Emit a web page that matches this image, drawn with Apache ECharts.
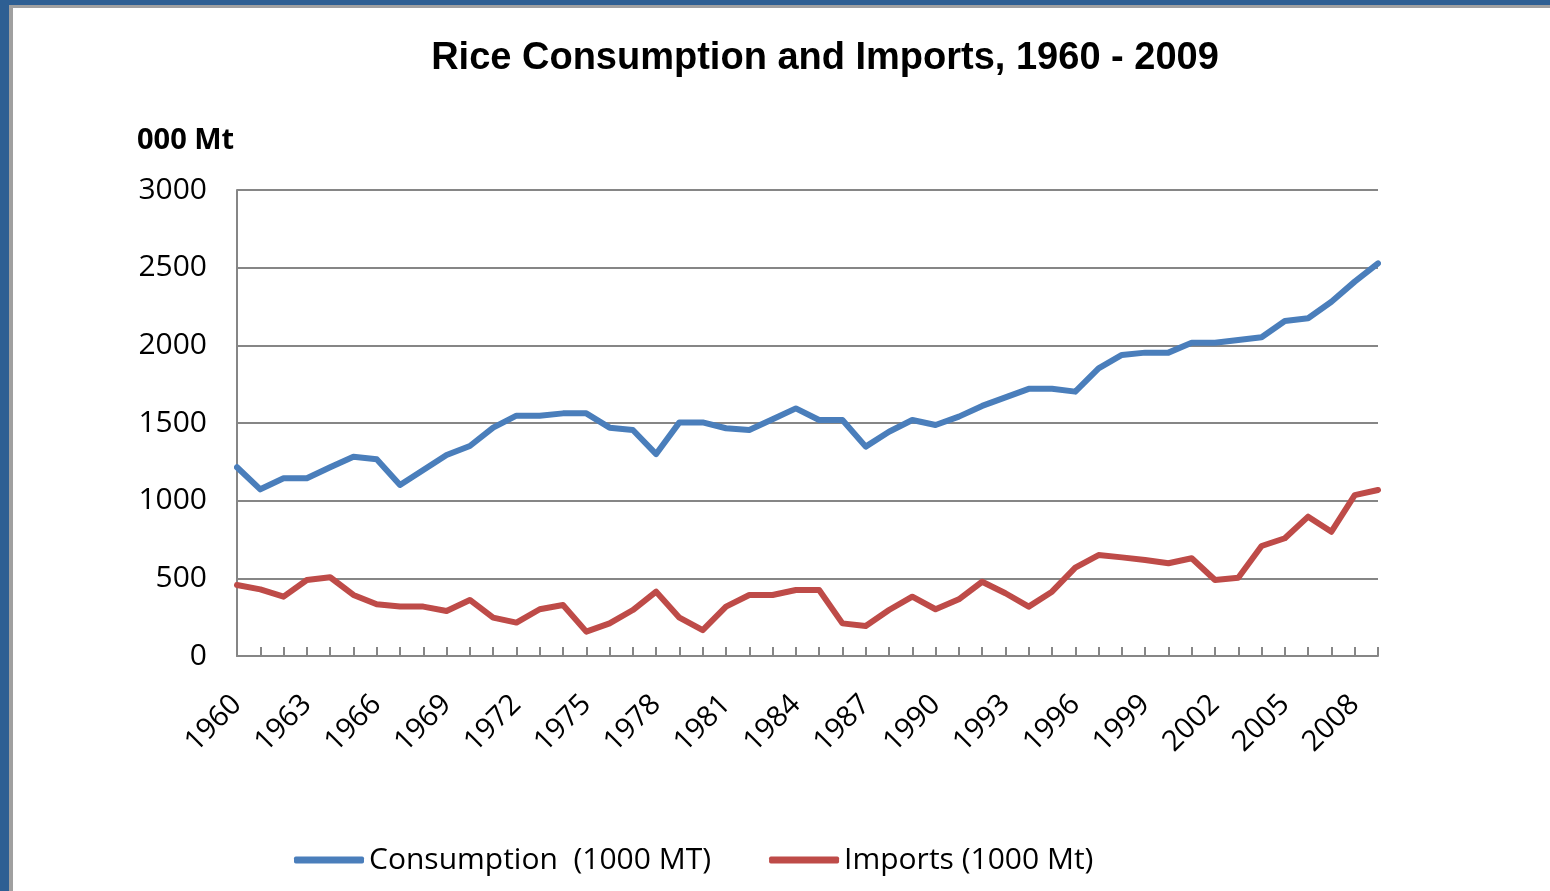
<!DOCTYPE html>
<html>
<head>
<meta charset="utf-8">
<title>Rice Consumption and Imports, 1960 - 2009</title>
<script src="https://cdn.jsdelivr.net/npm/echarts@6/dist/echarts.min.js"></script>
<style>
  html, body { margin: 0; padding: 0; width: 1550px; height: 891px; overflow: hidden; background: #2e5f93; }
  #frame { position: absolute; left: 9px; top: 5px; width: 1541px; height: 886px; background: #a0a0a0; }
  #chart { position: absolute; left: 4px; top: 3px; width: 1537px; height: 883px; background: #ffffff; }
</style>
</head>
<body>
<div id="frame"><div id="chart"></div></div>
<script>
// Years on the category axis
const years = [];
for (let y = 1960; y <= 2009; y++) years.push(String(y));

// Rice consumption, thousand tonnes
const consumption = [
  1215, 1073, 1144, 1144, 1215, 1283, 1266, 1101, 1197, 1294,
  1352, 1470, 1547, 1547, 1562, 1562, 1470, 1455, 1300, 1504,
  1504, 1466, 1455, 1524, 1594, 1519, 1519, 1348, 1444, 1519,
  1487, 1541, 1610, 1665, 1720, 1720, 1702, 1852, 1938, 1953,
  1953, 2017, 2017, 2034, 2052, 2157, 2174, 2281, 2410, 2528
];

// Rice imports, thousand tonnes
const imports = [
  457, 429, 382, 489, 507, 393, 333, 318, 318, 290,
  361, 247, 215, 301, 328, 157, 210, 296, 414, 247,
  167, 318, 393, 393, 425, 425, 210, 193, 296, 382,
  301, 365, 478, 404, 318, 414, 569, 650, 635, 618,
  597, 629, 489, 504, 708, 758, 897, 800, 1036, 1069
];

const yTicks = [0, 500, 1000, 1500, 2000, 2500, 3000];

const labelFont = '"Open Sans", "DejaVu Sans", sans-serif';
const chart = echarts.init(document.getElementById('chart'), null, { renderer: 'canvas' });

chart.setOption({
  animation: false,
  backgroundColor: '#ffffff',
  title: {
    text: 'Rice Consumption and Imports, 1960 - 2009',
    left: 807,
    top: 27,
    textAlign: 'center',
    textStyle: {
      fontFamily: '"Liberation Sans", Arial, sans-serif',
      fontWeight: 'bold',
      fontSize: 38,
      color: '#000000'
    }
  },
  graphic: [{
    type: 'text',
    left: 124,
    top: 118,
    style: {
      text: '000 Mt',
      font: 'bold 29px ' + labelFont,
      fill: '#000000'
    }
  }],
  legend: {
    left: 276,
    top: 832,
    itemGap: 58,
    itemWidth: 70,
    itemHeight: 7,
    icon: 'roundRect',
    textStyle: { fontFamily: labelFont, fontSize: 30, color: '#000000' },
    data: ['Consumption  (1000 MT)', 'Imports (1000 Mt)']
  },
  grid: { left: 224, right: 172, top: 182, bottom: 235 },
  xAxis: {
    type: 'category',
    data: years,
    boundaryGap: false,
    axisLine: { show: true, lineStyle: { color: '#868686', width: 2 } },
    axisTick: { show: true, inside: true, length: 9, interval: 0, lineStyle: { color: '#868686', width: 2 } },
    axisLabel: {
      interval: 2,
      rotate: 45,
      margin: 44,
      fontFamily: labelFont,
      fontSize: 29,
      color: '#000000'
    },
    splitLine: { show: false }
  },
  yAxis: {
    type: 'value',
    min: 0,
    max: 3000,
    interval: 500,
    axisLine: { show: true, lineStyle: { color: '#868686', width: 2 } },
    axisTick: { show: false },
    axisLabel: {
      margin: 30,
      fontFamily: labelFont,
      fontSize: 30,
      color: '#000000',
      formatter: v => yTicks.includes(v) ? String(v) : ''
    },
    splitLine: { show: true, lineStyle: { color: '#868686', width: 2 } }
  },
  series: [
    {
      name: 'Consumption  (1000 MT)',
      type: 'line',
      data: consumption,
      showSymbol: false,
      symbol: 'none',
      color: '#4a7ebb',
      lineStyle: { width: 6, color: '#4a7ebb', cap: 'round', join: 'round' }
    },
    {
      name: 'Imports (1000 Mt)',
      type: 'line',
      data: imports,
      showSymbol: false,
      symbol: 'none',
      color: '#be4b48',
      lineStyle: { width: 6, color: '#be4b48', cap: 'round', join: 'round' }
    }
  ]
});
</script>
</body>
</html>
